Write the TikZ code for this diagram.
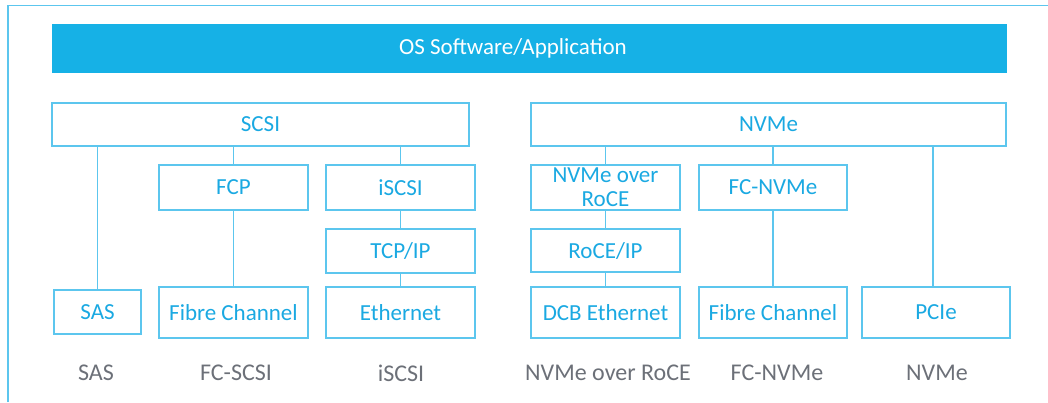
\documentclass[tikz,border=0pt]{standalone}
\usepackage{fontspec}
\setmainfont{Carlito}
\definecolor{frameblue}{HTML}{5CC6EE}
\definecolor{barblue}{HTML}{16B1E6}
\definecolor{textblue}{HTML}{1AA9E2}
\definecolor{labelgray}{HTML}{6C7078}
\begin{document}
\begin{tikzpicture}[x=1pt,y=-1pt,
  layer/.style={draw=frameblue,line width=1.8pt,fill=white,text=textblue,
    font=\fontsize{23}{24}\selectfont,align=center,inner sep=0pt},
  link/.style={draw=frameblue,line width=1.8pt},
  caption/.style={text=labelgray,font=\fontsize{24}{26}\selectfont,inner sep=0pt}]
\useasboundingbox (0,0) rectangle (1048,402);
% outer frame (top and left edges)
\draw[frameblue,line width=1.8pt] (8,402) -- (8,5.5) -- (1048,5.5);
% application layer (title set slightly left of the bar's centre)
\node[fill=barblue,draw=none,minimum width=955pt,minimum height=49pt,inner sep=0pt,
  text=white,font=\fontsize{23}{24}\selectfont] (os) at (529.5,48.5)
  {OS Software/Application\hspace*{33pt}};
% command sets
\node[layer,minimum width=417pt,minimum height=43pt] (scsi) at (260.5,124.5) {SCSI};
\node[layer,minimum width=475pt,minimum height=43pt] (nvme) at (768.5,124.5) {NVMe};
% SCSI stacks
\node[layer,minimum width=87pt,minimum height=44pt] (sas) at (97.5,312) {SAS};
\node[layer,minimum width=149pt,minimum height=45pt] (fcp) at (233.5,187.5) {FCP};
\node[layer,minimum width=149pt,minimum height=51pt] (fcA) at (233.5,312.5) {Fibre Channel};
\node[layer,minimum width=149pt,minimum height=45pt] (iscsi) at (400.5,187.5) {iSCSI};
\node[layer,minimum width=149pt,minimum height=44pt] (tcp) at (400.5,251) {TCP/IP};
\node[layer,minimum width=149pt,minimum height=51pt] (eth) at (400.5,312.5) {Ethernet};
% NVMe stacks
\node[layer,minimum width=149pt,minimum height=45pt] (nor) at (605.5,187.5) {NVMe over\\RoCE};
\node[layer,minimum width=149pt,minimum height=43pt] (roce) at (605.5,250.5) {RoCE/IP};
\node[layer,minimum width=149pt,minimum height=51pt] (dcb) at (605.5,312.5) {DCB Ethernet};
\node[layer,minimum width=148pt,minimum height=45pt] (fcn) at (773,187.5) {FC-NVMe};
\node[layer,minimum width=148pt,minimum height=51pt] (fcB) at (773,312.5) {Fibre Channel};
\node[layer,minimum width=148pt,minimum height=51pt] (pcie) at (936,312.5) {PCIe};
% connectors
\draw[link] (sas.north) -- (sas.north |- scsi.south);
\draw[link] (fcp.north) -- (fcp.north |- scsi.south);
\draw[link] (fcp.south) -- (fcA.north);
\draw[link] (iscsi.north) -- (iscsi.north |- scsi.south);
\draw[link] (iscsi.south) -- (tcp.north);
\draw[link] (tcp.south) -- (eth.north);
\draw[link] (nor.north) -- (nor.north |- nvme.south);
\draw[link] (nor.south) -- (roce.north);
\draw[link] (roce.south) -- (dcb.north);
\draw[link] (fcn.north) -- (fcn.north |- nvme.south);
\draw[link] (fcn.south) -- (fcB.north);
\draw[link] ([xshift=-3pt]pcie.north) -- ([xshift=-3pt]pcie.north |- nvme.south);
% protocol names
\node[caption] (capSAS) at (96,373) {SAS};
\node[caption] (capFCS) at (236,373) {FC-SCSI};
\node[caption] (capISC) at (401,373) {iSCSI};
\node[caption] (capNOR) at (608,373) {NVMe over RoCE};
\node[caption] (capFCN) at (777,373) {FC-NVMe};
\node[caption] (capNVM) at (937,373) {NVMe};
\end{tikzpicture}
\end{document}
